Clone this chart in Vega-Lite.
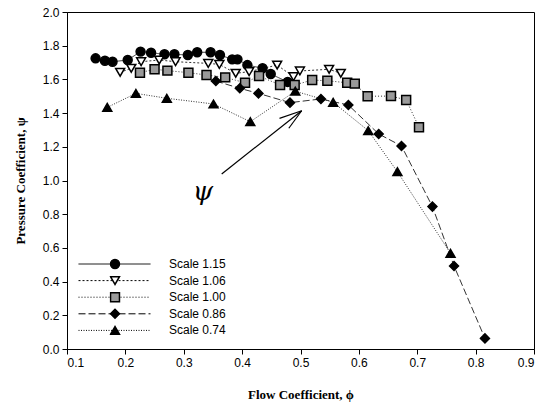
{
  "$schema": "https://vega.github.io/schema/vega-lite/v6.json",
  "width": 467,
  "height": 337,
  "autosize": "none",
  "padding": {"left": 67, "top": 12, "right": 19, "bottom": 68},
  "background": "white",
  "config": {
    "view": {"stroke": "black", "strokeWidth": 1},
    "axis": {
      "grid": false,
      "domainColor": "black",
      "tickColor": "black",
      "tickSize": 5,
      "labelFont": "Liberation Sans",
      "labelFontSize": 12,
      "labelColor": "black",
      "labelOverlap": false,
      "titleFont": "Liberation Serif",
      "titleFontSize": 13,
      "titleFontWeight": "bold",
      "titleColor": "black"
    }
  },
  "datasets": {
    "pts": [
      {"series": "Scale 1.15", "phi": 0.149, "psi": 1.725},
      {"series": "Scale 1.15", "phi": 0.165, "psi": 1.711},
      {"series": "Scale 1.15", "phi": 0.178, "psi": 1.705},
      {"series": "Scale 1.15", "phi": 0.204, "psi": 1.715},
      {"series": "Scale 1.15", "phi": 0.226, "psi": 1.765},
      {"series": "Scale 1.15", "phi": 0.244, "psi": 1.758},
      {"series": "Scale 1.15", "phi": 0.267, "psi": 1.749},
      {"series": "Scale 1.15", "phi": 0.284, "psi": 1.749},
      {"series": "Scale 1.15", "phi": 0.307, "psi": 1.745},
      {"series": "Scale 1.15", "phi": 0.323, "psi": 1.761},
      {"series": "Scale 1.15", "phi": 0.346, "psi": 1.761},
      {"series": "Scale 1.15", "phi": 0.362, "psi": 1.745},
      {"series": "Scale 1.15", "phi": 0.383, "psi": 1.719},
      {"series": "Scale 1.15", "phi": 0.392, "psi": 1.719},
      {"series": "Scale 1.15", "phi": 0.409, "psi": 1.685},
      {"series": "Scale 1.15", "phi": 0.435, "psi": 1.666},
      {"series": "Scale 1.15", "phi": 0.449, "psi": 1.632},
      {"series": "Scale 1.15", "phi": 0.478, "psi": 1.585},
      {"series": "Scale 1.06", "phi": 0.191, "psi": 1.642},
      {"series": "Scale 1.06", "phi": 0.210, "psi": 1.666},
      {"series": "Scale 1.06", "phi": 0.227, "psi": 1.705},
      {"series": "Scale 1.06", "phi": 0.258, "psi": 1.715},
      {"series": "Scale 1.06", "phi": 0.286, "psi": 1.705},
      {"series": "Scale 1.06", "phi": 0.342, "psi": 1.695},
      {"series": "Scale 1.06", "phi": 0.361, "psi": 1.689},
      {"series": "Scale 1.06", "phi": 0.389, "psi": 1.636},
      {"series": "Scale 1.06", "phi": 0.412, "psi": 1.646},
      {"series": "Scale 1.06", "phi": 0.460, "psi": 1.685},
      {"series": "Scale 1.06", "phi": 0.488, "psi": 1.616},
      {"series": "Scale 1.06", "phi": 0.499, "psi": 1.650},
      {"series": "Scale 1.06", "phi": 0.549, "psi": 1.660},
      {"series": "Scale 1.06", "phi": 0.569, "psi": 1.636},
      {"series": "Scale 1.00", "phi": 0.225, "psi": 1.640},
      {"series": "Scale 1.00", "phi": 0.250, "psi": 1.660},
      {"series": "Scale 1.00", "phi": 0.272, "psi": 1.652},
      {"series": "Scale 1.00", "phi": 0.308, "psi": 1.640},
      {"series": "Scale 1.00", "phi": 0.339, "psi": 1.626},
      {"series": "Scale 1.00", "phi": 0.371, "psi": 1.612},
      {"series": "Scale 1.00", "phi": 0.405, "psi": 1.580},
      {"series": "Scale 1.00", "phi": 0.429, "psi": 1.620},
      {"series": "Scale 1.00", "phi": 0.465, "psi": 1.567},
      {"series": "Scale 1.00", "phi": 0.490, "psi": 1.567},
      {"series": "Scale 1.00", "phi": 0.520, "psi": 1.596},
      {"series": "Scale 1.00", "phi": 0.546, "psi": 1.592},
      {"series": "Scale 1.00", "phi": 0.580, "psi": 1.580},
      {"series": "Scale 1.00", "phi": 0.593, "psi": 1.575},
      {"series": "Scale 1.00", "phi": 0.615, "psi": 1.500},
      {"series": "Scale 1.00", "phi": 0.655, "psi": 1.501},
      {"series": "Scale 1.00", "phi": 0.681, "psi": 1.478},
      {"series": "Scale 1.00", "phi": 0.703, "psi": 1.316},
      {"series": "Scale 0.86", "phi": 0.355, "psi": 1.590},
      {"series": "Scale 0.86", "phi": 0.396, "psi": 1.547},
      {"series": "Scale 0.86", "phi": 0.428, "psi": 1.517},
      {"series": "Scale 0.86", "phi": 0.482, "psi": 1.462},
      {"series": "Scale 0.86", "phi": 0.535, "psi": 1.484},
      {"series": "Scale 0.86", "phi": 0.582, "psi": 1.448},
      {"series": "Scale 0.86", "phi": 0.634, "psi": 1.276},
      {"series": "Scale 0.86", "phi": 0.673, "psi": 1.205},
      {"series": "Scale 0.86", "phi": 0.726, "psi": 0.845},
      {"series": "Scale 0.86", "phi": 0.763, "psi": 0.493},
      {"series": "Scale 0.86", "phi": 0.816, "psi": 0.063},
      {"series": "Scale 0.74", "phi": 0.169, "psi": 1.434},
      {"series": "Scale 0.74", "phi": 0.218, "psi": 1.517},
      {"series": "Scale 0.74", "phi": 0.271, "psi": 1.488},
      {"series": "Scale 0.74", "phi": 0.351, "psi": 1.454},
      {"series": "Scale 0.74", "phi": 0.414, "psi": 1.349},
      {"series": "Scale 0.74", "phi": 0.491, "psi": 1.530},
      {"series": "Scale 0.74", "phi": 0.556, "psi": 1.464},
      {"series": "Scale 0.74", "phi": 0.616, "psi": 1.296},
      {"series": "Scale 0.74", "phi": 0.666, "psi": 1.052},
      {"series": "Scale 0.74", "phi": 0.757, "psi": 0.568}
    ],
    "arrow": [
      {"x": 0.365, "y": 1.039, "x2": 0.502, "y2": 1.414},
      {"x": 0.464, "y": 1.369, "x2": 0.502, "y2": 1.414},
      {"x": 0.480, "y": 1.310, "x2": 0.502, "y2": 1.414}
    ],
    "note": [{"x": 0.333, "y": 0.934, "label": "ψ"}]
  },
  "layer": [
    {
      "data": {"name": "pts"},
      "mark": {"type": "line", "stroke": "#333", "strokeWidth": 1},
      "encoding": {
        "x": {
          "field": "phi", "type": "quantitative",
          "scale": {"domain": [0.1, 0.9], "nice": false, "zero": false},
          "axis": {"values": [0.1, 0.2, 0.3, 0.4, 0.5, 0.6, 0.7, 0.8, 0.9], "tickCount": 20, "format": ".1f", "title": "Flow Coefficient, ϕ", "titlePadding": 20, "labelPadding": 3}
        },
        "y": {
          "field": "psi", "type": "quantitative",
          "scale": {"domain": [0, 2], "nice": false},
          "axis": {"values": [0, 0.2, 0.4, 0.6, 0.8, 1.0, 1.2, 1.4, 1.6, 1.8, 2.0], "tickCount": 20, "format": ".1f", "title": "Pressure Coefficient, ψ", "titlePadding": 15, "labelPadding": 3}
        },
        "strokeDash": {
          "field": "series", "type": "nominal", "sort": "descending",
          "scale": {"range": [[1, 0], [2, 2], [1, 2], [7, 3], [1, 1.5]]},
          "legend": {
            "title": null, "orient": "none", "legendX": 11, "legendY": 246,
            "symbolType": "stroke", "symbolSize": 5184, "symbolStrokeColor": "black", "symbolStrokeWidth": 1,
            "clipHeight": 12, "rowPadding": 4.6, "padding": 0,
            "labelFont": "Liberation Sans", "labelFontSize": 12, "labelColor": "black", "labelOffset": 18
          }
        }
      }
    },
    {
      "data": {"name": "pts"},
      "mark": {"type": "point", "filled": true, "stroke": "black", "strokeWidth": 1.5, "size": 80, "opacity": 1},
      "encoding": {
        "x": {"field": "phi", "type": "quantitative"},
        "y": {"field": "psi", "type": "quantitative"},
        "shape": {
          "field": "series", "type": "nominal",
          "scale": {"domain": ["Scale 1.15", "Scale 1.06", "Scale 1.00", "Scale 0.86", "Scale 0.74"], "range": ["circle", "triangle-down", "square", "diamond", "triangle-up"]},
          "legend": {
            "title": null, "orient": "none", "legendX": 42.5, "legendY": 246,
            "symbolSize": 80, "symbolStrokeWidth": 1.5,
            "clipHeight": 12, "rowPadding": 4.6, "padding": 0,
            "labelExpr": "''", "labelFontSize": 1,
            "encode": {"symbols": {"stroke": {"value": "black"}, "strokeWidth": {"value": 1.5}}}
          }
        },
        "fill": {
          "field": "series", "type": "nominal",
          "scale": {"domain": ["Scale 1.15", "Scale 1.06", "Scale 1.00", "Scale 0.86", "Scale 0.74"], "range": ["black", "white", "#9a9a9a", "black", "black"]},
          "legend": {
            "title": null, "orient": "none", "legendX": 42.5, "legendY": 246,
            "symbolSize": 80, "symbolStrokeWidth": 1.5,
            "clipHeight": 12, "rowPadding": 4.6, "padding": 0,
            "labelExpr": "''", "labelFontSize": 1,
            "encode": {"symbols": {"stroke": {"value": "black"}, "strokeWidth": {"value": 1.5}}}
          }
        }
      }
    },
    {
      "data": {"name": "arrow"},
      "mark": {"type": "rule", "color": "black", "strokeWidth": 1.2},
      "encoding": {
        "x": {"field": "x", "type": "quantitative"},
        "y": {"field": "y", "type": "quantitative"},
        "x2": {"field": "x2"},
        "y2": {"field": "y2"}
      }
    },
    {
      "data": {"name": "note"},
      "mark": {"type": "text", "font": "DejaVu Serif", "fontStyle": "italic", "fontSize": 26, "color": "black", "baseline": "middle", "align": "center"},
      "encoding": {
        "x": {"field": "x", "type": "quantitative"},
        "y": {"field": "y", "type": "quantitative"},
        "text": {"field": "label"}
      }
    }
  ]
}
